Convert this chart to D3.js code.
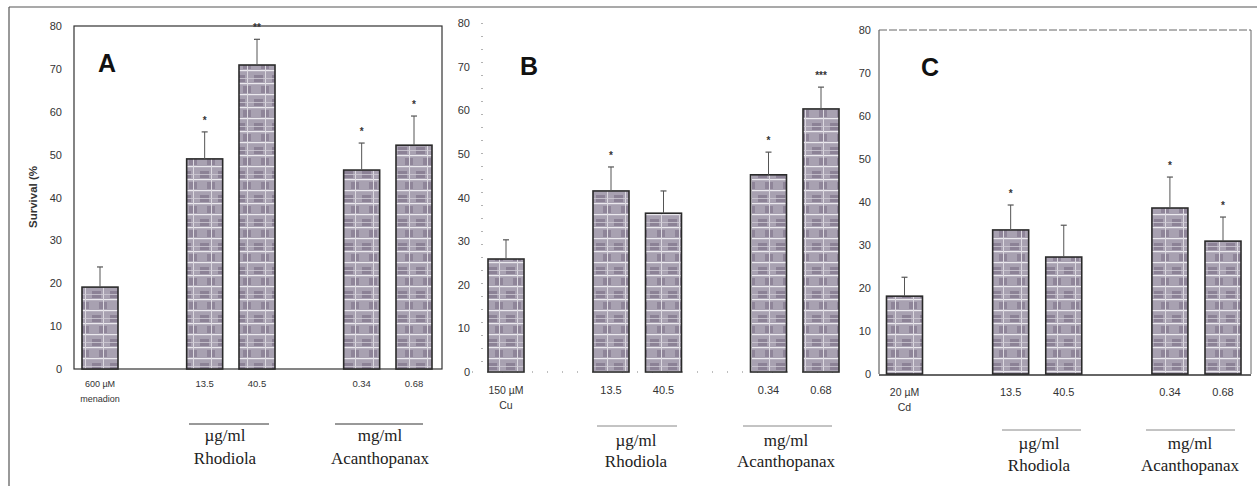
<!DOCTYPE html>
<html><head><meta charset="utf-8">
<script src="https://cdn.jsdelivr.net/npm/d3@7"></script>
<style>
body{margin:0;background:#fff;}
svg{display:block;}
</style></head>
<body>
<svg id="chart" width="1257" height="486"></svg>
<script>
// ---- data ----
const panels = ["A", "B", "C"];
const controlLabelsTop = ["600 µM", "150 µM", "20 µM"];
const controlLabelsBottom = ["menadion", "Cu", "Cd"];
const doseLabels = ["13.5", "40.5", "0.34", "0.68"];
const slots = [0, 2, 3, 5, 6];
const valuesA = [19.1, 49.0, 70.9, 46.4, 52.2];
const errorsA = [4.7, 6.3, 6.0, 6.3, 6.8];
const starsA = ["", "*", "**", "*", "*"];
const valuesB = [25.9, 41.5, 36.4, 45.2, 60.3];
const errorsB = [4.4, 5.5, 5.1, 5.2, 5.0];
const starsB = ["", "*", "", "*", "***"];
const valuesC = [18.1, 33.5, 27.2, 38.6, 30.9];
const errorsC = [4.4, 5.8, 7.4, 7.2, 5.6];
const starsC = ["", "*", "", "*", "*"];
const yTicks = [0, 10, 20, 30, 40, 50, 60, 70, 80];
const groupUnits = ["µg/ml", "mg/ml"];
const groupNames = ["Rhodiola", "Acanthopanax"];

const svg = d3.select("#chart");

// texture pattern
const defs = svg.append("defs");
const pat = defs.append("pattern").attr("id", "tex").attr("patternUnits", "userSpaceOnUse")
  .attr("width", 18).attr("height", 24);
pat.append("rect").attr("width", 18).attr("height", 24).attr("fill", "#a8a1b1");
pat.append("rect").attr("x", 2).attr("y", 3).attr("width", 9).attr("height", 7).attr("fill", "#857b90").attr("opacity", 0.8);
pat.append("rect").attr("x", 9).attr("y", 14).attr("width", 8).attr("height", 7).attr("fill", "#887e93").attr("opacity", 0.8);
pat.append("rect").attr("x", 0).attr("y", 11).attr("width", 18).attr("height", 1.2).attr("fill", "#ebe9ee");
pat.append("rect").attr("x", 0).attr("y", 22).attr("width", 18).attr("height", 1.2).attr("fill", "#ebe9ee");
pat.append("rect").attr("x", 13).attr("y", 0).attr("width", 1).attr("height", 24).attr("fill", "#dcd9e0");
pat.append("rect").attr("x", 0).attr("y", 6).attr("width", 18).attr("height", 0.8).attr("fill", "#cfcbd5");

// outer frame
svg.append("line").attr("x1", 9).attr("x2", 1257).attr("y1", 7).attr("y2", 7).attr("stroke", "#555").attr("stroke-width", 1.2);
svg.append("line").attr("x1", 9).attr("x2", 9).attr("y1", 7).attr("y2", 486).attr("stroke", "#555").attr("stroke-width", 1.2);

const cfg = [
  {vals: valuesA, errs: errorsA, stars: starsA, xr: [100, 414], yr: [369, 26], tickX: 62, axisX: 74,
   box: {l: 74, r: 442, t: 26, style: "full"}, letter: [107, 72],
   lineY: 424, unitY: 441, nameY: 464, g1: [189, 269], g2: [335, 423], t1: 225, t2: 380, labelY: 387},
  {vals: valuesB, errs: errorsB, stars: starsB, xr: [506, 821], yr: [372, 23], tickX: 470, axisX: 482,
   box: {l: 482, r: 845, t: 23, style: "dotted"}, letter: [529, 75],
   lineY: 426, unitY: 446, nameY: 467, g1: [597, 677], g2: [743, 832], t1: 636, t2: 786, labelY: 394},
  {vals: valuesC, errs: errorsC, stars: starsC, xr: [904.5, 1223], yr: [374, 30], tickX: 871, axisX: 879,
   box: {l: 879, r: 1251, t: 30, style: "open"}, letter: [930, 76],
   lineY: 430, unitY: 449, nameY: 471, g1: [1002, 1081], g2: [1146, 1235], t1: 1039, t2: 1190, labelY: 396}
];

cfg.forEach((c, pi) => {
  const x = d3.scaleLinear().domain([0, 6]).range(c.xr);
  const y = d3.scaleLinear().domain([0, 80]).range(c.yr);
  const g = svg.append("g");
  const bw = 36;
  const b = c.box;

  // frame
  if (b.style === "full") {
    g.append("rect").attr("x", b.l).attr("y", y(80)).attr("width", b.r - b.l).attr("height", y(0) - y(80))
      .attr("fill", "none").attr("stroke", "#333").attr("stroke-width", 1.2);
  } else if (b.style === "dotted") {
    g.append("line").attr("x1", b.l).attr("x2", b.l).attr("y1", y(80)).attr("y2", y(0))
      .attr("stroke", "#999").attr("stroke-dasharray", "1,12").attr("stroke-width", 1.5);
    g.append("line").attr("x1", b.l - 10).attr("x2", b.r).attr("y1", y(0)).attr("y2", y(0))
      .attr("stroke", "#aaa").attr("stroke-dasharray", "1,14").attr("stroke-width", 1.5);
  } else {
    g.append("line").attr("x1", b.l).attr("x2", b.l).attr("y1", y(80)).attr("y2", y(0)).attr("stroke", "#444");
    g.append("line").attr("x1", b.l).attr("x2", b.r).attr("y1", y(80)).attr("y2", y(80)).attr("stroke", "#666").attr("stroke-dasharray", "8,2");
    g.append("line").attr("x1", b.r).attr("x2", b.r).attr("y1", y(80)).attr("y2", y(0)).attr("stroke", "#666");
    g.append("line").attr("x1", b.l).attr("x2", b.r).attr("y1", y(0) + 1).attr("y2", y(0) + 1).attr("stroke", "#333").attr("stroke-width", 1.4);
  }

  // y axis tick labels
  const axis = d3.axisLeft(y).tickValues(yTicks).tickSize(0).tickPadding(0);
  const ag = g.append("g").attr("transform", `translate(${c.tickX},0)`).call(axis);
  ag.select(".domain").remove();
  ag.selectAll("text").attr("font-family", "Liberation Sans, Arial, sans-serif").attr("font-size", 11).attr("fill", "#333");

  // bars
  const idx = d3.range(c.vals.length);
  g.selectAll("rect.bar").data(idx).join("rect").attr("class", "bar")
    .attr("x", i => x(slots[i]) - bw / 2).attr("width", bw)
    .attr("y", i => y(c.vals[i])).attr("height", i => y(0) - y(c.vals[i]))
    .attr("fill", "url(#tex)").attr("stroke", "#2a2a2a").attr("stroke-width", 1.6);

  // error bars
  g.selectAll("line.err").data(idx).join("line").attr("class", "err")
    .attr("x1", i => x(slots[i])).attr("x2", i => x(slots[i]))
    .attr("y1", i => y(c.vals[i])).attr("y2", i => y(c.vals[i] + c.errs[i]))
    .attr("stroke", "#555").attr("stroke-width", 1);
  g.selectAll("line.cap").data(idx).join("line").attr("class", "cap")
    .attr("x1", i => x(slots[i]) - 3).attr("x2", i => x(slots[i]) + 3)
    .attr("y1", i => y(c.vals[i] + c.errs[i])).attr("y2", i => y(c.vals[i] + c.errs[i]))
    .attr("stroke", "#555").attr("stroke-width", 1.2);

  // stars
  g.selectAll("text.star").data(idx.filter(i => c.stars[i])).join("text").attr("class", "star")
    .attr("x", i => x(slots[i])).attr("y", i => y(c.vals[i] + c.errs[i]) - 8)
    .attr("text-anchor", "middle").attr("font-family", "Liberation Sans, Arial, sans-serif")
    .attr("font-weight", "bold").attr("font-size", 10).attr("fill", "#333").text(i => c.stars[i]);

  // panel letter
  g.append("text").attr("x", c.letter[0]).attr("y", c.letter[1]).attr("text-anchor", "middle")
    .attr("font-family", "Liberation Sans, Arial, sans-serif").attr("font-weight", "bold")
    .attr("font-size", 25).attr("fill", "#111").text(panels[pi]);

  // x labels
  const lf = "Liberation Sans, Arial, sans-serif";
  g.append("text").attr("x", x(slots[0])).attr("y", c.labelY).attr("text-anchor", "middle")
    .attr("font-family", lf).attr("font-size", pi === 0 ? 9 : 10.5).attr("fill", "#333").text(controlLabelsTop[pi]);
  g.append("text").attr("x", x(slots[0])).attr("y", c.labelY + 15).attr("text-anchor", "middle")
    .attr("font-family", lf).attr("font-size", pi === 0 ? 9 : 10.5).attr("fill", "#333").text(controlLabelsBottom[pi]);
  g.selectAll("text.dose").data(doseLabels).join("text").attr("class", "dose")
    .attr("x", (d, i) => x(slots[i + 1])).attr("y", c.labelY).attr("text-anchor", "middle")
    .attr("font-family", lf).attr("font-size", pi === 0 ? 9.5 : 11).attr("fill", "#333").text(d => d);

  // group lines and labels
  [c.g1, c.g2].forEach((gl, k) => {
    g.append("line").attr("x1", gl[0]).attr("x2", gl[1]).attr("y1", c.lineY).attr("y2", c.lineY)
      .attr("stroke", pi === 0 ? "#333" : "#888").attr("stroke-width", 1);
    const cx = k === 0 ? c.t1 : c.t2;
    g.append("text").attr("x", cx).attr("y", c.unitY).attr("text-anchor", "middle")
      .attr("font-family", "Liberation Serif, Times New Roman, serif").attr("font-size", 17).attr("fill", "#222").text(groupUnits[k]);
    g.append("text").attr("x", cx).attr("y", c.nameY).attr("text-anchor", "middle")
      .attr("font-family", "Liberation Serif, Times New Roman, serif").attr("font-size", 17).attr("fill", "#222").text(groupNames[k]);
  });
});

// y axis title (panel A)
svg.append("text").attr("transform", "translate(37,197) rotate(-90)").attr("text-anchor", "middle")
  .attr("font-family", "Liberation Sans, Arial, sans-serif").attr("font-weight", "bold").attr("font-size", 11.5)
  .attr("fill", "#333").text("Survival (%");
</script>
</body></html>
